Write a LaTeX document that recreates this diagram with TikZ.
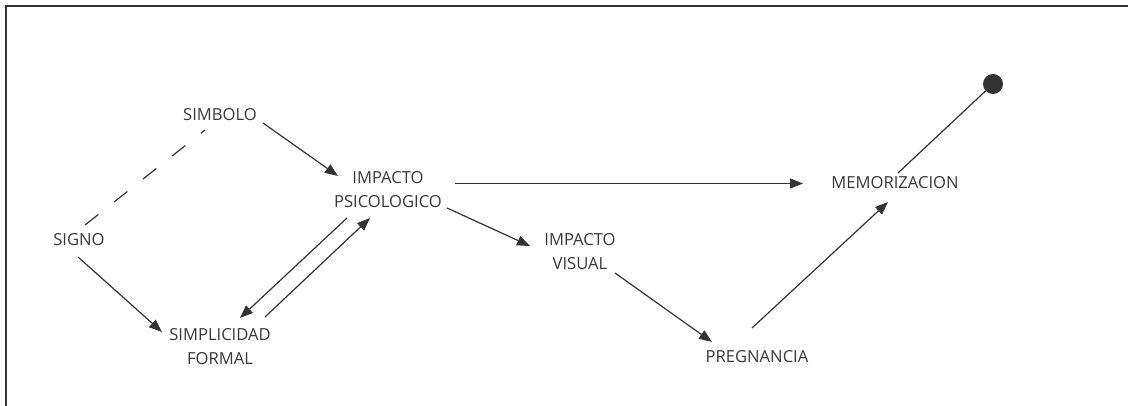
\documentclass[tikz,border=0pt]{standalone}
\usepackage{fontspec}
\setmainfont{Open Sans}
\usetikzlibrary{arrows.meta}
\definecolor{ink}{HTML}{333333}
\definecolor{txt}{HTML}{383838}
\tikzset{
  lbl/.style={inner sep=0pt, align=center, text=txt, font=\fontsize{16.6}{24}\selectfont},
  arr/.style={draw=ink, line width=1.2pt, -{Triangle[length=13pt,width=10pt]}},
  plain/.style={draw=ink, line width=1.2pt},
  dsh/.style={draw=ink, line width=1.2pt, dash pattern=on 17pt off 20pt},
}
\begin{document}
\begin{tikzpicture}[x=1pt,y=-1pt]
\useasboundingbox (0,0) rectangle (1128,406);
% frame (top and left edges)
\draw[ink, line width=1.6pt] (6,406) -- (6,6) -- (1128,6);

\node[lbl] (simbolo) at (220,115) {SIMBOLO};
\node[lbl] (signo) at (79,240) {SIGNO};
\node[lbl] (impacto) at (388,190) {IMPACTO\\PSICOLOGICO};
\node[lbl] (simplicidad) at (220,347) {SIMPLICIDAD\\FORMAL};
\node[lbl] (visual) at (580,252) {IMPACTO\\VISUAL};
\node[lbl] (pregnancia) at (757,357) {PREGNANCIA};
\node[lbl] (memo) at (895,183) {MEMORIZACION};
\node[circle, fill=ink, minimum size=20pt, inner sep=0pt] (dot) at (993,84) {};

\draw[arr] ([shift={(43,8)}]simbolo.center) -- ([shift={(-50,-14)}]impacto.center);
\draw[dsh] ([shift={(6,-15)}]signo.center) -- ([shift={(-15,15)}]simbolo.center);
\draw[arr] ([shift={(-1,17)}]signo.center) -- ([shift={(-58,-15)}]simplicidad.center);
\draw[arr] ([shift={(-41,28)}]impacto.center) -- ([shift={(20,-29)}]simplicidad.center);
\draw[arr] ([shift={(45,-30)}]simplicidad.center) -- ([shift={(-18,28)}]impacto.center);
\draw[arr] ([shift={(67,-6.5)}]impacto.center) -- ([shift={(-92,-6.5)}]memo.center |- impacto.center);
\draw[arr] ([shift={(59,18)}]impacto.center) -- ([shift={(-50,-6)}]visual.center);
\draw[arr] ([shift={(35,21)}]visual.center) -- ([shift={(-45,-15)}]pregnancia.center);
\draw[arr] ([shift={(-5,-29)}]pregnancia.center) -- ([shift={(-7,19)}]memo.center);
\draw[plain] ([shift={(3,-10)}]memo.center) -- (dot);
\end{tikzpicture}
\end{document}
